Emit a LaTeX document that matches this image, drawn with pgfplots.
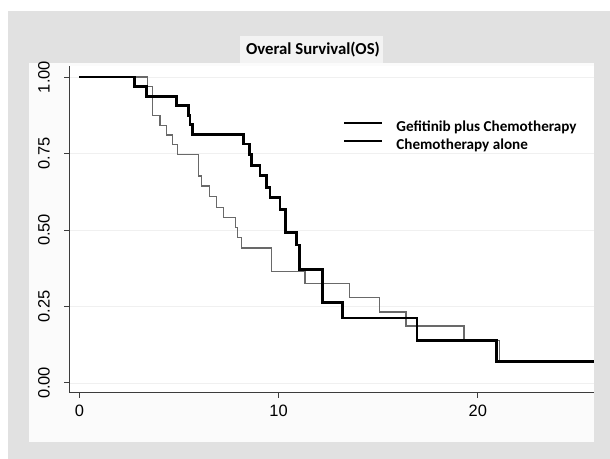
\documentclass[border=0pt]{standalone}
\usepackage{pgfplots}
\pgfplotsset{compat=1.18}
\usepackage{fontspec}
\setmainfont{Liberation Sans}
\newfontfamily\carlito{Carlito}
\definecolor{bggray}{RGB}{225,225,225}
\definecolor{innerbg}{RGB}{251,251,251}
\definecolor{titlebox}{RGB}{243,243,243}
\definecolor{kmgray}{RGB}{105,105,105}
\definecolor{axcol}{RGB}{60,60,60}
\definecolor{gridcol}{RGB}{240,240,240}
\begin{document}
\begin{tikzpicture}[x=1bp,y=1bp]
\fill[white] (0,0) rectangle (610,459);
\fill[bggray] (8,0) rectangle (610,448);
\fill[innerbg] (29,17) rectangle (594,396);
\fill[titlebox] (240,396) rectangle (383,423);
\node[font=\carlito\bfseries\fontsize{16.8}{18}\selectfont] at (313,409) {Overal Survival(OS)};
\begin{axis}[
  at={(69bp,66.3bp)}, anchor=south west,
  width=525.3bp, height=326.3bp, scale only axis,
  xmin=-0.52, xmax=25.85, ymin=-0.032, ymax=1.035,
  axis x line*=bottom, axis y line*=left,
  axis line style={axcol, line width=0.9bp},
  axis background/.style={fill=white},
  tick align=outside, major tick length=5bp,
  tick style={axcol, line width=0.9bp},
  xtick={0,10,20}, xticklabels={0,10,20},
  ytick={0,0.25,0.5,0.75,1}, yticklabels={0.00,0.25,0.50,0.75,1.00},
  ymajorgrids, grid style={gridcol, line width=0.6bp},
  ticklabel style={font=\fontsize{16.5}{18}\selectfont, inner sep=0pt},
  yticklabel style={xshift=-14bp, rotate=90, anchor=south},
  xticklabel style={yshift=-7bp, anchor=north},
  legend image code/.code={\draw[#1] (0bp,4.5bp) -- (38bp,4.5bp); \path (0bp,0bp) (51bp,0bp);},
  legend style={draw=none, fill=none, at={(0.5216,0.7844)}, anchor=west,
    inner sep=0pt, row sep=3.8bp,
    font=\carlito\bfseries\fontsize{15.2}{17}\selectfont,
    nodes={inner sep=0pt, text height=11bp, text depth=3.5bp}},
  legend cell align=left,
]
% Chemotherapy alone (thin gray)
\addplot[const plot, kmgray, line width=1.3bp, forget plot] coordinates {
(0,1.000) (3.41,0.969) (3.66,0.875) (4.05,0.842) (4.36,0.811) (4.66,0.779)
(4.93,0.746) (5.97,0.677) (6.14,0.644) (6.55,0.609) (6.88,0.574) (7.23,0.540)
(7.85,0.508) (7.93,0.475) (8.14,0.441) (9.66,0.365) (11.33,0.325) (13.55,0.279)
(15.08,0.232) (16.40,0.186) (19.31,0.139) (21.08,0.072) (25.85,0.072)
};
% Gefitinib plus chemotherapy (thick black)
\addplot[const plot, black, line width=2.8bp, forget plot] coordinates {
(0,1.000) (2.75,0.969) (3.36,0.9375) (4.89,0.906) (5.47,0.875) (5.55,0.844)
(5.67,0.8125) (8.23,0.781) (8.53,0.748) (8.65,0.711) (9.07,0.678) (9.39,0.640)
(9.57,0.606) (10.07,0.568) (10.33,0.492) (10.90,0.451) (11.04,0.370) (12.22,0.263)
(13.20,0.212) (16.95,0.139) (20.93,0.070) (25.85,0.070)
};
\addlegendimage{black, line width=2.2bp}
\addlegendentry{Gefitinib plus Chemotherapy}
\addlegendimage{black, line width=1.8bp}
\addlegendentry{Chemotherapy alone}
\end{axis}
\end{tikzpicture}
\end{document}
